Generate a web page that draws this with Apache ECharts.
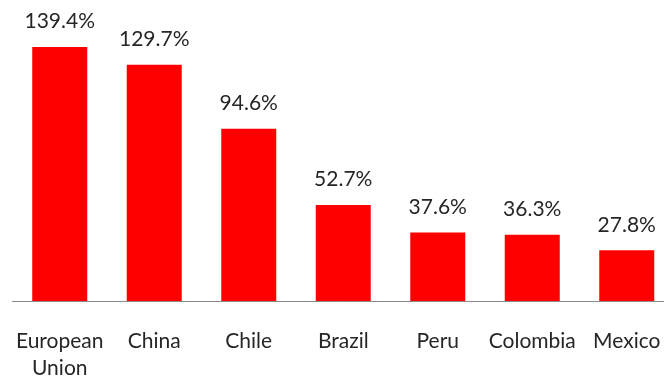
<!DOCTYPE html>
<html>
<head>
<meta charset="utf-8">
<script src="https://cdn.jsdelivr.net/npm/echarts@6/dist/echarts.min.js"></script>
<style>
  html, body { margin: 0; padding: 0; background: #fff; }
  #chart { width: 664px; height: 378px; }
</style>
</head>
<body>
<div id="chart"></div>
<script>
// Trading partners and their percentage values
const categories = ['European\nUnion', 'China', 'Chile', 'Brazil', 'Peru', 'Colombia', 'Mexico'];
const values = [139.4, 129.7, 94.6, 52.7, 37.6, 36.3, 27.8];

const chart = echarts.init(document.getElementById('chart'), null, { renderer: 'canvas' });

chart.setOption({
  animation: false,
  backgroundColor: '#ffffff',
  grid: { left: 12.5, width: 661.5, top: 9.5, bottom: 77, outerBoundsMode: 'none', containLabel: false },
  xAxis: {
    type: 'category',
    data: categories,
    axisLine: { show: true, lineStyle: { color: '#8a8a8a', width: 1 } },
    axisTick: { show: false },
    axisLabel: {
      interval: 0,
      margin: 27,
      fontFamily: 'Lato',
      fontSize: 21,
      lineHeight: 27,
      color: '#262626'
    }
  },
  yAxis: {
    type: 'value',
    min: 0,
    max: 160,
    show: false,
    splitLine: { show: false }
  },
  series: [{
    type: 'bar',
    data: values,
    barWidth: 55,
    itemStyle: { color: '#ff0000' },
    label: {
      show: true,
      position: 'top',
      distance: 15,
      fontFamily: 'Lato',
      fontSize: 21,
      lineHeight: 21,
      color: '#262626',
      formatter: p => p.value.toFixed(1) + '%'
    }
  }]
});
</script>
</body>
</html>
